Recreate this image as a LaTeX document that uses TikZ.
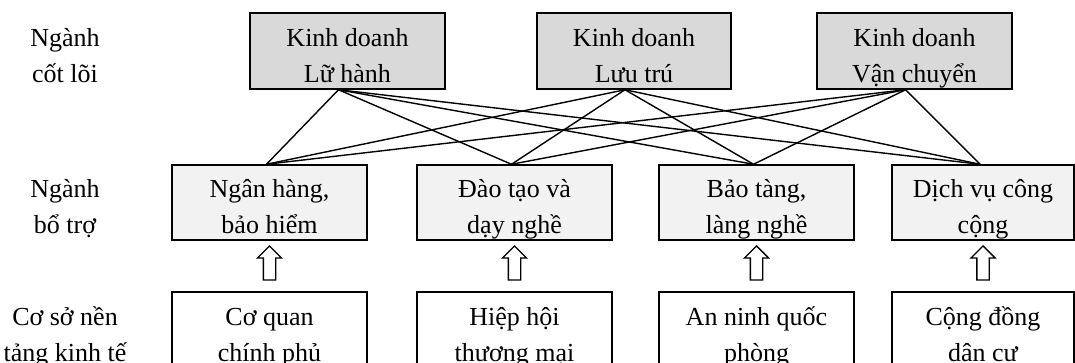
\documentclass[tikz,border=0pt]{standalone}
\usepackage{fontspec}
\setmainfont{Liberation Serif}
\usetikzlibrary{positioning,shapes.arrows,calc}
\definecolor{coregray}{HTML}{D9D9D9}
\definecolor{supportgray}{HTML}{F2F2F2}

\begin{document}
\begin{tikzpicture}[x=1pt,y=-1pt,font=\fontsize{26}{36}\selectfont,
      box/.style={draw,line width=1.5pt,minimum height=76pt,inner sep=0pt,
        align=center,text height=62pt,text depth=0pt},
      core/.style={box,fill=coregray},
      support/.style={box,fill=supportgray,minimum height=75pt},
      base/.style={box,fill=white},
      rowlabel/.style={align=center,inner sep=0pt,text height=62pt,text depth=0pt},
      link/.style={line width=1.4pt},
      uparrow/.style={single arrow,draw,line width=1.3pt,fill=white,
        shape border rotate=90,minimum height=34pt,inner sep=5.5pt,
        single arrow head extend=6pt}]
    \useasboundingbox (0,0) rectangle (1075,362);
    \clip (0,0) rectangle (1075,362);
    % Row labels
    \node[rowlabel] (lcore) at (65,51) {Ngành\\cốt lõi};
    \node[rowlabel] (lsupport) at (65,202.5) {Ngành\\bổ trợ};
    \node[rowlabel] (lbase) at (65,330) {Cơ sở nền\\tảng kinh tế};
    % Core industries
    \foreach \x/\w/\txt [count=\i] in {347.5/195/{Kinh doanh\\Lữ hành},
        634/194/{Kinh doanh\\Lưu trú},914.5/195/{Kinh doanh\\Vận chuyển}} {
      \node[core,minimum width=\w pt] (t\i) at (\x,51) {\txt};
    }
    % Supporting industries
    \foreach \x/\w/\txt [count=\j] in {269.5/195/{Ngân hàng,\\bảo hiểm},
        514.5/195/{Đào tạo và\\dạy nghề},756.5/195/{Bảo tàng,\\làng nghề},
        983/182/{Dịch vụ công\\cộng}} {
      \node[support,minimum width=\w pt] (m\j) at (\x,202.5) {\txt};
    }
    % Economic foundation
    \foreach \x/\w/\txt [count=\j] in {269.5/195/{Cơ quan\\chính phủ},
        514.5/195/{Hiệp hội\\thương mại},756.5/195/{An ninh quốc\\phòng},
        983/182/{Cộng đồng\\dân cư}} {
      \node[base,minimum width=\w pt] (b\j) at (\x,330) {\txt};
    }
    % Links core -> supporting
    \foreach \i in {1,2,3} {
      \foreach \j in {1,2,3,4} {
        \draw[link] ([xshift=-9pt]t\i.south) -- ([xshift=-3pt]m\j.north);
      }
    }
    % Hollow arrows
    \foreach \j in {1,2,3,4} {
      \node[uparrow] (a\j) at ($(m\j.south)!0.5!(b\j.north)$) {};
    }
  \end{tikzpicture}
\end{document}
